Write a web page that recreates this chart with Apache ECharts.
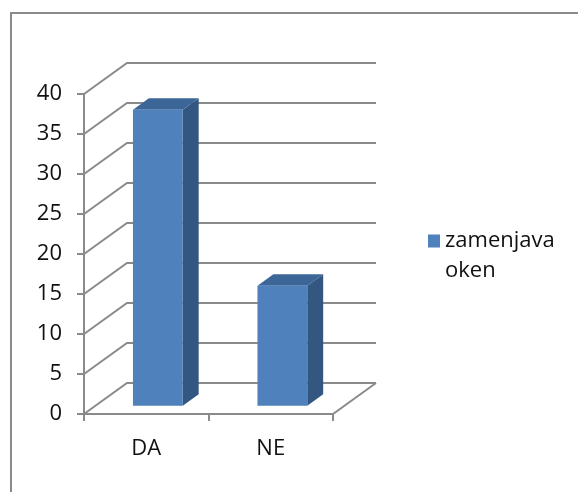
<!DOCTYPE html>
<html>
<head>
<meta charset="utf-8">
<script src="https://cdn.jsdelivr.net/npm/echarts@6/dist/echarts.min.js"></script>
<style>
  html, body { margin: 0; padding: 0; background: #ffffff; }
  #chart { width: 578px; height: 492px; }
</style>
</head>
<body>
<div id="chart"></div>
<script>
// Survey answers: window replacement (yes / no)
const categories = ['DA', 'NE'];
const seriesName = 'zamenjava oken';
const values = [37, 15];
const valueTicks = [0, 5, 10, 15, 20, 25, 30, 35, 40];

// Oblique projection used to fake the 3D box (pixels)
const DEPTH_X = 43;
const DEPTH_Y = 31;
const BAR_FRONT = 0.27;   // bar front face, as a fraction of the box depth
const BAR_DEPTH = 0.37;   // bar thickness, as a fraction of the box depth
const BAR_WIDTH = 0.4;    // bar width, as a fraction of the category band

const LINE = '#8a8a8a';
const TEXT = '#111111';
const FONT = '"Open Sans", "Noto Sans", sans-serif';

const chart = echarts.init(document.getElementById('chart'), null, { renderer: 'canvas' });

// Back wall, side wall and floor lines for every value tick
function renderWalls(params, api) {
  const cs = params.coordSys;
  const v = api.value(1);
  const y = api.coord([0, v])[1];
  const x0 = cs.x;
  const x1 = cs.x + cs.width;
  const children = [{
    type: 'polyline',
    shape: { points: [[x0, y], [x0 + DEPTH_X, y - DEPTH_Y], [x1 + DEPTH_X, y - DEPTH_Y]] },
    style: { stroke: LINE, lineWidth: 2, fill: null }
  }];
  if (v === 0) {
    children.push({
      type: 'line',
      shape: { x1: x1, y1: y, x2: x1 + DEPTH_X, y2: y - DEPTH_Y },
      style: { stroke: LINE, lineWidth: 2 }
    });
  }
  return { type: 'group', children: children };
}

// Prism bars: front, top and right faces
function renderBars(params, api) {
  const idx = api.value(0);
  const v = api.value(1);
  const band = api.size([1, 0])[0];
  const center = api.coord([idx, 0])[0];
  const base = api.coord([idx, 0])[1];
  const top = api.coord([idx, v])[1];
  const sx = BAR_FRONT * DEPTH_X;
  const sy = BAR_FRONT * DEPTH_Y;
  const w = band * BAR_WIDTH;
  const xl = center - w / 2 + sx;
  const xr = xl + w;
  const yb = base - sy;
  const yt = top - sy;
  const dx = BAR_DEPTH * DEPTH_X;
  const dy = BAR_DEPTH * DEPTH_Y;
  return {
    type: 'group',
    children: [
      {
        type: 'polygon',
        shape: { points: [[xr, yt], [xr + dx, yt - dy], [xr + dx, yb - dy], [xr, yb]] },
        style: { fill: '#335781' }
      },
      {
        type: 'polygon',
        shape: { points: [[xl, yt], [xr, yt], [xr + dx, yt - dy], [xl + dx, yt - dy]] },
        style: { fill: '#3d6698' }
      },
      {
        type: 'rect',
        shape: { x: xl, y: yt, width: w, height: yb - yt },
        style: { fill: '#4f81bd' }
      }
    ]
  };
}

const option = {
  backgroundColor: '#ffffff',
  animation: false,
  textStyle: { fontFamily: FONT },
  grid: { left: 84, right: 245, top: 94, bottom: 78, containLabel: false },
  legend: {
    data: [seriesName],
    orient: 'vertical',
    left: 428,
    top: 196,
    padding: 0,
    icon: 'rect',
    itemWidth: 12,
    itemHeight: 13,
    // leading blank line keeps the first text line level with the swatch
    formatter: function (name) { return '\n' + name.replace(' ', '\n'); },
    textStyle: {
      fontFamily: FONT,
      fontSize: 22,
      color: TEXT,
      lineHeight: 30
    }
  },
  xAxis: {
    type: 'category',
    data: categories,
    boundaryGap: true,
    axisLine: { lineStyle: { color: LINE, width: 2 } },
    axisTick: { show: true, length: 7, lineStyle: { color: LINE, width: 2 } },
    axisLabel: { margin: 24, fontFamily: FONT, fontSize: 22, color: TEXT },
    splitLine: { show: false }
  },
  yAxis: {
    type: 'value',
    min: 0,
    max: 40,
    interval: 5,
    axisLine: { show: true, lineStyle: { color: LINE, width: 2 } },
    axisTick: { show: true, length: 7, lineStyle: { color: LINE, width: 2 } },
    axisLabel: { margin: 22, padding: [5, 0, 0, 0], fontFamily: FONT, fontSize: 22, color: TEXT },
    splitLine: { show: false }
  },
  graphic: [{
    type: 'rect',
    shape: { x: 11, y: 13, width: 620, height: 600 },
    style: { fill: null, stroke: '#8a8a8a', lineWidth: 2 },
    silent: true,
    z: 100
  }],
  series: [
    {
      type: 'custom',
      name: 'walls',
      renderItem: renderWalls,
      data: valueTicks.map(function (t) { return [0, t]; }),
      encode: { x: 0, y: 1 },
      silent: true,
      z: 1
    },
    {
      type: 'custom',
      name: seriesName,
      renderItem: renderBars,
      data: values.map(function (v, i) { return [i, v]; }),
      encode: { x: 0, y: 1 },
      itemStyle: { color: '#4f81bd' },
      z: 2
    }
  ]
};

chart.setOption(option);
</script>
</body>
</html>
